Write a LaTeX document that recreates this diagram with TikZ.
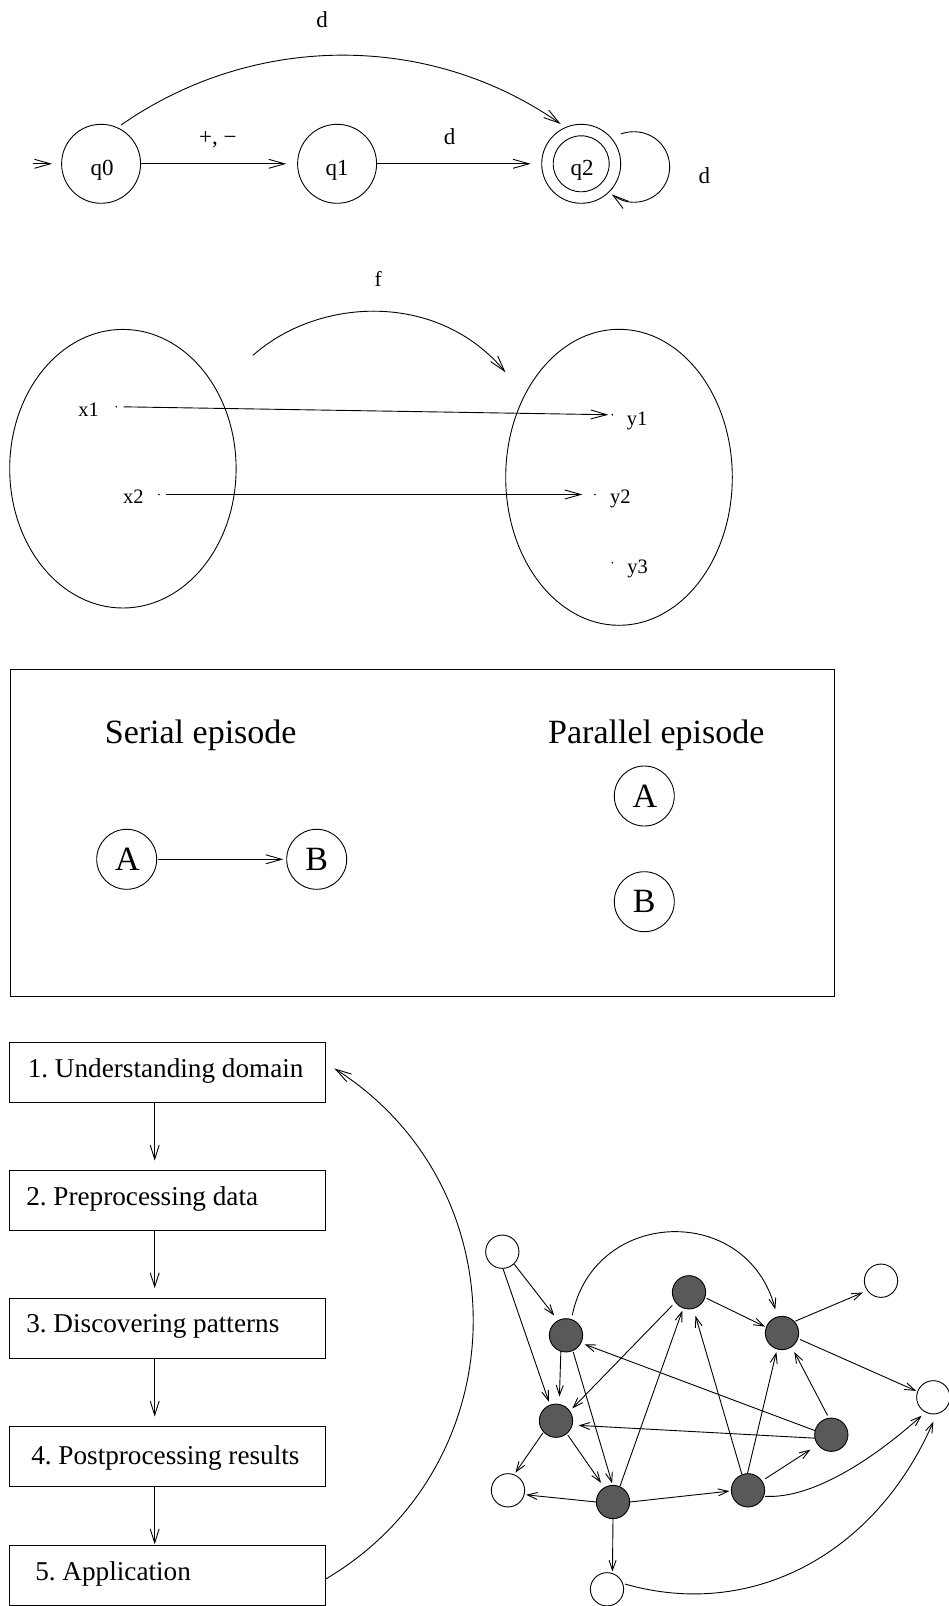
\documentclass[tikz,border=0pt]{standalone}
\usepackage{fontspec}
\setmainfont{Liberation Serif}
\usetikzlibrary{arrows.meta,calc}
\frenchspacing
\newcommand{\shifted}[3]{\makebox[0pt][c]{\hspace{#1pt}\raisebox{-#2pt}[0pt][0pt]{#3}}}
\newcommand{\boxtext}[3]{\makebox[0pt][l]{\hspace{#1pt}\raisebox{-#2pt}[0pt][0pt]{#3}}}
\tikzset{
  line/.style={line width=0.9pt,draw=black},
  arrlong/.style={line,-{Straight Barb[length=16pt,width=9pt,line width=0.9pt]}},
  arrflow/.style={line,-{Straight Barb[length=14pt,width=9pt,line width=0.9pt]}},
  arrsmall/.style={line,-{Straight Barb[length=10pt,width=7pt,line width=0.9pt]}},
  toptext/.style={font=\fontsize{23}{26}\selectfont},
  midtext/.style={font=\fontsize{20.5}{24}\selectfont},
  big/.style={font=\fontsize{34}{38}\selectfont},
  toplbl/.style={toptext,anchor=base,inner sep=0pt,outer sep=0pt},
  midlbl/.style={midtext,anchor=base,inner sep=0pt,outer sep=0pt},
  biglbl/.style={big,anchor=base,inner sep=0pt,outer sep=0pt},
  state/.style={line,circle,inner sep=0pt,outer sep=0pt,minimum size=79pt,toptext},
  inner/.style={line,circle,inner sep=0pt,outer sep=0pt,minimum size=56pt},
  bigcirc/.style={line,circle,inner sep=0pt,outer sep=0pt,minimum size=60pt,big},
  pt/.style={circle,fill=black,inner sep=0pt,outer sep=0pt,minimum size=1.8pt},
  frame/.style={line,rectangle,inner sep=0pt,outer sep=0pt},
  flow/.style={line,rectangle,inner sep=0pt,outer sep=0pt,minimum width=316.4pt,minimum height=60pt,font=\fontsize{27.2}{30}\selectfont},
  dark/.style={line,circle,fill=black!65,inner sep=0pt,outer sep=0pt,minimum size=33.3pt},
  light/.style={line,circle,fill=white,inner sep=0pt,outer sep=0pt,minimum size=33.3pt},
}
\begin{document}
\begin{tikzpicture}[x=1pt,y=-1pt]
\useasboundingbox (0,0) rectangle (949,1606);
% --- automaton
\node[state] (q0) at (101.1,163.8) {\shifted{1.8}{11.2}{q0}};
\node[state] (q1) at (337.1,163.8) {\shifted{0}{11.2}{q1}};
\node[state] (q2) at (581.2,163.8) {\shifted{2}{11.2}{q2}};
\node[inner] (q2in) at (q2) {};
\coordinate (qstart) at (33.3,163.8);
\draw[arrlong,shorten >=9.5pt] (qstart) -- (q0.west);
\draw[arrlong,shorten >=11.3pt] (q0.east) -- (q1.west);
\draw[arrlong,shorten >=11pt] (q1.east) -- (q2.west);
\draw[arrlong] ($(q0)+(20,-38.8)$) .. controls (252.6,33.1) and (428.2,31.4) .. ($(q2)+(-20.5,-39.8)$);
\draw[arrlong] ($(q2)+(39.5,-29.8)$) .. controls (637.6,128.1) and (655.5,134.0) .. (664.5,148.6)
   .. controls (673.4,163.2) and (670.5,182.0) .. (657.8,193.3)
   .. controls (645,204.6) and (625.9,205.0) .. ($(q2)+(30.5,30.5)$);
\node[toplbl] (d1) at (322,27.3) {d};
\node[toplbl] (pm) at (217.9,144) {+, −};
\node[toplbl] (d2) at (449.7,144) {d};
\node[toplbl] (d3) at (704.3,183.5) {d};
% --- mapping
\draw[line] (122.9,468.7) ellipse [x radius=113.2,y radius=139.3];
\draw[line] (619,477.3) ellipse [x radius=113.3,y radius=148];
\node[pt] (x1p) at (116.3,406.7) {};
\node[pt] (x2p) at (159,494.5) {};
\node[pt] (y1p) at (612.3,414.8) {};
\node[pt] (y2p) at (595,494.5) {};
\node[pt] (y3p) at (612.3,562.7) {};
\node[midlbl] (x1) at (88.6,416) {x1};
\node[midlbl] (x2) at (133.3,503.3) {x2};
\node[midlbl] (y1) at (637.2,425) {y1};
\node[midlbl] (y2) at (620.3,503.3) {y2};
\node[midlbl] (y3) at (637.5,573.5) {y3};
\node[midlbl,font=\fontsize{21.5}{24}\selectfont] (f) at (378.1,286) {f};
\draw[arrlong,shorten <=6.5pt,shorten >=3pt] (x1p) -- (y1p);
\draw[arrlong,shorten <=6.5pt,shorten >=11.7pt] (x2p) -- (y2p);
\coordinate (fs) at (253,355.3);
\coordinate (fe) at (505.5,372.3);
\draw[arrlong] (fs) .. controls (318.4,297) and (437.8,291) .. (fe);
% --- episodes
\node[frame,minimum width=824.3pt,minimum height=327.4pt] (frame) at (422.15,833) {};
\node[biglbl] (ser) at (200.7,743.5) {Serial episode};
\node[biglbl] (par) at (656.3,743.5) {Parallel episode};
\node[bigcirc] (A1) at (126.7,859.3) {\shifted{1.2}{11}{A}};
\node[bigcirc] (B1) at (316.7,859.3) {\shifted{0}{11}{B}};
\node[bigcirc] (A2) at (644.3,796) {\shifted{1.2}{11}{A}};
\node[bigcirc] (B2) at (644.3,901.7) {\shifted{0}{11}{B}};
\draw[arrlong,shorten <=1.3pt,shorten >=3.3pt] (A1.east) -- (B1.west);
% --- process
\node[flow] (b1) at (167.5,1072.5) {\boxtext{-139.7}{4.8}{1. Understanding domain}};
\node[flow] (b2) at (167.5,1200.2) {\boxtext{-141.2}{5.5}{2. Preprocessing data}};
\node[flow] (b3) at (167.5,1328.2) {\boxtext{-141.2}{4.4}{3. Discovering patterns}};
\node[flow] (b4) at (167.5,1456.2) {\boxtext{-136.2}{8.5}{4. Postprocessing results}};
\node[flow] (b5) at (167.5,1575.4) {\boxtext{-132.2}{5.2}{5. Application}};
\draw[arrflow,shorten >=9.6pt] ($(b1.south)+(-12.8,0)$) -- ($(b2.north)+(-12.8,0)$);
\draw[arrflow,shorten >=10pt] ($(b2.south)+(-12.8,0)$) -- ($(b3.north)+(-12.8,0)$);
\draw[arrflow,shorten >=9.7pt] ($(b3.south)+(-12.8,0)$) -- ($(b4.north)+(-12.8,0)$);
\draw[arrflow,shorten >=1.1pt] ($(b4.south)+(-12.8,0)$) -- ($(b5.north)+(-12.8,0)$);
\draw[arrlong] ($(b5.east)+(0,3.6)$) .. controls (518.4,1465.4) and (522.8,1188.4) .. ($(b1.east)+(8.6,-4.1)$);
% --- graph
\node[light] (W1) at (502.3,1251.7) {};
\node[dark]  (D1) at (566,1335.3) {};
\node[dark]  (D2) at (689,1292.3) {};
\node[dark]  (D3) at (782,1333) {};
\node[light] (W2) at (881,1280.7) {};
\node[light] (W3) at (933.3,1397.3) {};
\node[dark]  (D4) at (556,1420.7) {};
\node[dark]  (D5) at (831.3,1434.7) {};
\node[light] (W4) at (508,1490.3) {};
\node[dark]  (D6) at (613,1502) {};
\node[dark]  (D7) at (748,1490.3) {};
\node[light] (W5) at (607,1589.3) {};
\draw[arrsmall,shorten <=0.7pt,shorten >=6.5pt] (W1.-46.5) -- (D1.118.4);
\draw[arrsmall,shorten >=3.7pt] (W1.-88) -- (D4.111);
\draw[arrsmall] ($(D1)+(6.3,-20.3)$) .. controls (594.7,1207.3) and (747,1203) .. ($(D3)+(-6.7,-23.7)$);
\draw[arrsmall,shorten >=7.8pt] (D1.-108) -- (D4.79);
\draw[arrsmall,shorten <=1.5pt,shorten >=2pt] (D1.-66.3) -- (D6.91);
\draw[arrsmall,shorten <=4.6pt,shorten >=3.9pt] (D2.-144.6) -- (D4.35.8);
\draw[arrsmall,shorten <=2pt,shorten >=1.7pt] (D2.-18.8) -- (D3.160.9);
\draw[arrsmall,shorten <=1.3pt,shorten >=5pt] (D3.43.5) -- (W2.-144.4);
\draw[arrsmall,shorten <=2.4pt,shorten >=1.8pt] (D3.-19.4) -- (W3.160);
\draw[arrsmall,shorten >=4pt] (D5.166) -- (D1.-27.8);
\draw[arrsmall,shorten >=6.5pt] (D5.-168) -- (D4.-15);
\draw[arrsmall,shorten <=3.2pt,shorten >=6pt] (D5.98.7) -- (D3.-55.1);
\draw[arrsmall,shorten <=0.8pt,shorten >=7.8pt] (D7.111) -- (D2.-75);
\draw[arrsmall,shorten >=3.3pt] (D7.92) -- (D3.-107.5);
\draw[arrsmall,shorten <=4pt,shorten >=9pt] (D7.34.5) -- (D5.-143.4);
\draw[arrsmall] ($(D7)+(17,6)$) .. controls (812,1499) and (872,1460) .. ($(W3)+(-11.7,18.4)$);
\draw[arrsmall,shorten >=2pt] (D6.180) -- (W4.-15.5);
\draw[arrsmall,shorten >=2pt] (D6.0) -- (D7.182);
\draw[arrsmall,shorten >=2pt] (D6.-90) -- (W5.71.2);
\draw[arrsmall,shorten <=0.8pt,shorten >=2.8pt] (D6.66.4) -- (D2.-110);
\draw[arrsmall,shorten <=1.3pt,shorten >=2.5pt] (D4.-138) -- (W4.69.7);
\draw[arrsmall,shorten <=2pt,shorten >=5.9pt] (D4.-50) -- (D6.121);
\draw[arrsmall] ($(W5)+(18,-5.3)$) .. controls (750,1620) and (874.5,1556) .. ($(W3)+(0,24.4)$);
\end{tikzpicture}
\end{document}
